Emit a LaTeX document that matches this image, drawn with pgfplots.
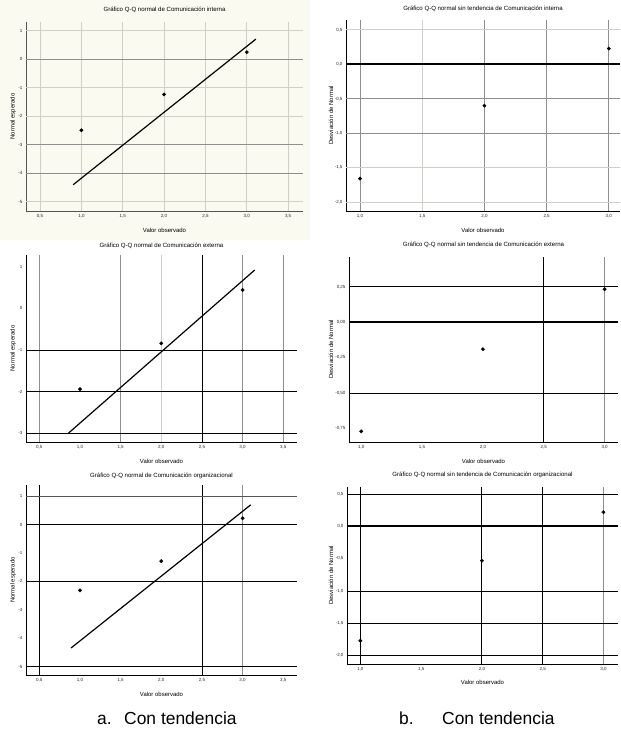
\documentclass[border=0pt]{standalone}
\usepackage{fontspec}
\setmainfont{Liberation Sans}
\usepackage{pgfplots}
\pgfplotsset{compat=1.18}
\definecolor{cream}{HTML}{FBFAF1}
\definecolor{lg}{HTML}{CFCFC8}
\definecolor{mg}{HTML}{8E8E8E}
\definecolor{dg}{HTML}{555555}
\newcommand{\vl}[2]{\draw[#1] ({axis cs:#2,0}|-{rel axis cs:0,0}) -- ({axis cs:#2,0}|-{rel axis cs:0,1});}
\newcommand{\hl}[2]{\draw[#1] ({rel axis cs:0,0}|-{axis cs:1,#2}) -- ({rel axis cs:1,0}|-{axis cs:1,#2});}
\pgfplotsset{
  qq/.style={
    scale only axis, anchor=south west,
    axis x line*=bottom, axis y line*=left,
    axis line style={black, line width=0.8bp, -},
    major tick length=0pt,
    tick style={draw=none},
    /pgf/number format/assume math mode=true,
    ticklabel style={font=\fontsize{4.5}{5}\selectfont, text=black!85},
    xticklabel style={/pgf/number format/.cd, fixed, fixed zerofill, precision=1, use comma},
    title style={font=\fontsize{6.1}{7}\selectfont, anchor=south, at={(0.5,1)}},
    label style={font=\fontsize{6}{7}\selectfont},
    xlabel={Valor observado},
    xlabel style={at={(axis description cs:0.5,0)}, anchor=center, yshift=-19bp},
    clip=true,
  },
  ylpos/.style={ylabel style={at={(axis description cs:-#1,0.5)}, anchor=center}},
  ydec/.style={yticklabel style={/pgf/number format/.cd, fixed, fixed zerofill, precision=#1, use comma}},
  trend/.style={black, line width=1.2bp, no marks},
  pts/.style={only marks, mark=*, mark size=1.7bp, black},
}
\begin{document}
\begin{tikzpicture}
\useasboundingbox (0,0) rectangle (621bp,737bp);
\fill[cream] (0,497bp) rectangle (310bp,737bp);

% Panel 1
\begin{axis}[qq, at={(26bp,526bp)}, width=277bp, height=189bp,
  xmin=0.33, xmax=3.68, ymin=-5.33, ymax=1.3,
  xtick={0.5,1,1.5,2,2.5,3,3.5}, ytick={-5,-4,-3,-2,-1,0,1},
  axis line style={dg, line width=0.8bp, -},
  title={Gráfico Q-Q normal de Comunicación interna},
  ylabel={Normal esperado}, ylpos=0.047]
\vl{lg, line width=1bp}{0.5}\vl{lg, line width=0.8bp}{1}\vl{lg, line width=1bp}{1.5}
\vl{lg, line width=1bp}{2}\vl{lg, line width=0.8bp}{2.5}\vl{lg, line width=1bp}{3}\vl{lg, line width=1bp}{3.5}
\hl{lg, line width=1bp}{1}\hl{mg, line width=0.8bp}{0}\hl{lg, line width=1bp}{-1}
\hl{lg, line width=1bp}{-2}\hl{mg, line width=0.8bp}{-3}\hl{mg, line width=0.8bp}{-4}\hl{lg, line width=1bp}{-5}
\addplot[trend] coordinates {(0.9,-4.41) (3.11,0.70)};
\addplot[pts] coordinates {(1,-2.50) (2,-1.24) (3,0.24)};
\end{axis}

% Panel 2
\begin{axis}[qq, at={(346bp,526bp)}, width=274bp, height=191bp,
  xmin=0.887, xmax=3.09, ymin=-2.13, ymax=0.645,
  xtick={1,1.5,2,2.5,3}, ytick={-2,-1.5,-1,-0.5,0,0.5}, ydec=1,
  title={Gráfico Q-Q normal sin tendencia de Comunicación interna},
  title style={yshift=-1bp},
  ylabel={Desviación de Normal}, ylpos=0.055]
\vl{mg, line width=0.8bp}{1}\vl{lg, line width=0.6bp}{1.5}\vl{mg, line width=0.8bp}{2}
\vl{mg, line width=0.8bp}{2.5}\vl{mg, line width=0.8bp}{3}
\hl{lg, line width=1bp}{0.5}\hl{mg, line width=0.8bp}{-0.5}\hl{mg, line width=0.8bp}{-1}
\hl{lg, line width=1bp}{-1.5}\hl{lg, line width=1bp}{-2}
\hl{black, line width=2bp}{0}
\addplot[pts] coordinates {(1,-1.66) (2,-0.60) (3,0.23)};
\end{axis}

% Panel 3
\begin{axis}[qq, at={(26bp,295bp)}, width=271bp, height=187bp,
  xmin=0.336, xmax=3.67, ymin=-3.21, ymax=1.28,
  xtick={0.5,1,1.5,2,2.5,3,3.5}, ytick={-3,-2,-1,0,1},
  title={Gráfico Q-Q normal de Comunicación externa},
  title style={yshift=-3bp},
  ylabel={Normal esperado}, ylpos=0.048]
\vl{mg, line width=0.8bp}{0.5}\vl{mg, line width=0.8bp}{1.5}\vl{lg, line width=1bp}{2}
\vl{black, line width=0.8bp}{2.5}\vl{mg, line width=0.8bp}{3}\vl{mg, line width=0.8bp}{3.5}
\hl{black, line width=0.8bp}{-1}\hl{black, line width=0.8bp}{-2}\hl{black, line width=0.8bp}{-3}
\addplot[trend] coordinates {(0.857,-3.0) (3.15,0.92)};
\addplot[pts] coordinates {(1,-1.94) (2,-0.84) (3,0.44)};
\end{axis}

% Panel 4
\begin{axis}[qq, at={(349bp,295bp)}, width=269bp, height=185bp,
  xmin=0.9, xmax=3.11, ymin=-0.845, ymax=0.46,
  xtick={1,1.5,2,2.5,3}, ytick={-0.75,-0.5,-0.25,0,0.25}, ydec=2,
  title={Gráfico Q-Q normal sin tendencia de Comunicación externa},
  ylabel={Desviación de Normal}, ylpos=0.067]
\vl{black, line width=0.8bp}{2.5}\vl{mg, line width=1bp}{3}
\hl{black, line width=0.8bp}{0.25}\hl{black, line width=0.8bp}{-0.5}
\hl{black, line width=2bp}{0}
\addplot[pts] coordinates {(1,-0.77) (2,-0.19) (3,0.233)};
\end{axis}

% Panel 5
\begin{axis}[qq, at={(26bp,62bp)}, width=271bp, height=190bp,
  xmin=0.336, xmax=3.67, ymin=-5.3, ymax=1.39,
  xtick={0.5,1,1.5,2,2.5,3,3.5}, ytick={-5,-4,-3,-2,-1,0,1},
  title={Gráfico Q-Q normal de Comunicación organizacional},
  title style={yshift=-3bp},
  ylabel={Normal esperado}, ylpos=0.048]
\vl{black, line width=0.8bp}{0.5}\vl{black, line width=0.8bp}{2.5}\vl{mg, line width=1bp}{3}
\hl{dg, line width=0.8bp}{1}\hl{black, line width=0.8bp}{0}\hl{black, line width=0.8bp}{-2}\hl{black, line width=0.8bp}{-5}
\addplot[trend] coordinates {(0.89,-4.35) (3.10,0.69)};
\addplot[pts] coordinates {(1,-2.32) (2,-1.29) (3,0.22)};
\end{axis}

% Panel 6
\begin{axis}[qq, at={(347bp,73bp)}, width=271bp, height=177bp,
  xmin=0.89, xmax=3.12, ymin=-2.13, ymax=0.61,
  xtick={1,1.5,2,2.5,3}, ytick={-2,-1.5,-1,-0.5,0,0.5}, ydec=1,
  title={Gráfico Q-Q normal sin tendencia de Comunicación organizacional},
  xlabel style={yshift=1bp},
  ylabel={Desviación de Normal}, ylpos=0.059]
\vl{black, line width=0.8bp}{1}\vl{black, line width=0.8bp}{2}\vl{black, line width=0.8bp}{2.5}\vl{mg, line width=1bp}{3}
\hl{black, line width=0.8bp}{0.5}\hl{black, line width=0.8bp}{-1}\hl{black, line width=0.8bp}{-1.5}\hl{black, line width=0.8bp}{-2}
\hl{black, line width=2bp}{0}
\addplot[pts] coordinates {(1,-1.77) (2,-0.53) (3,0.22)};
\end{axis}

% Captions
\node[anchor=base west, inner sep=0, font=\fontsize{17.5}{20}\selectfont] at (97bp,13bp) {a.};
\node[anchor=base west, inner sep=0, font=\fontsize{17.5}{20}\selectfont] at (124bp,13bp) {Con tendencia};
\node[anchor=base west, inner sep=0, font=\fontsize{17.5}{20}\selectfont] at (399bp,13bp) {b.};
\node[anchor=base west, inner sep=0, font=\fontsize{17.5}{20}\selectfont] at (442bp,13bp) {Con tendencia};
\end{tikzpicture}
\end{document}
